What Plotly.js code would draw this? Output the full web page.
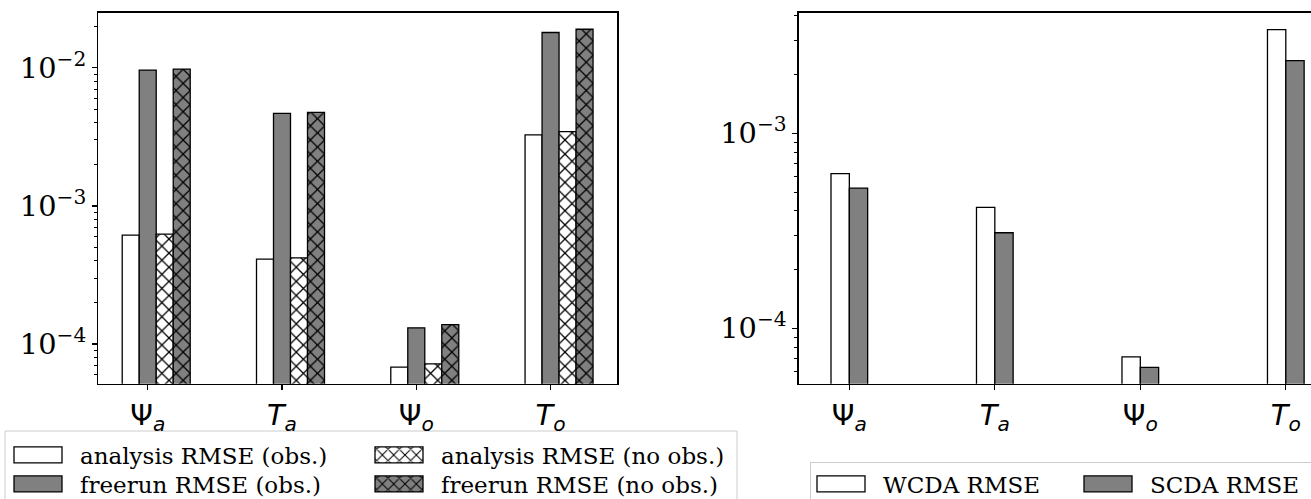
<!DOCTYPE html>
<html><head><meta charset="utf-8">
<script src="https://cdn.plot.ly/plotly-3.0.1.min.js"></script>
<style>html,body{margin:0;padding:0;background:#fff;overflow:hidden}
#wrap{position:relative;width:1311px;height:499px;overflow:hidden;background:#fff}</style>
</head><body><div id="wrap"><div id="chart"></div></div>
<script>
// ---- data ----
const categories = ['Psi_a', 'T_a', 'Psi_o', 'T_o'];
const tickLabels = ['Ψ<sub><i>a</i></sub>', '<i>T</i><sub><i>a</i></sub>', 'Ψ<sub><i>o</i></sub>', '<i>T</i><sub><i>o</i></sub>'];
const analysisObs   = [6.14e-4, 4.11e-4, 6.81e-5, 3.27e-3];
const freerunObs    = [9.62e-3, 4.68e-3, 1.31e-4, 1.80e-2];
const analysisNoObs = [6.24e-4, 4.21e-4, 7.19e-5, 3.45e-3];
const freerunNoObs  = [9.78e-3, 4.75e-3, 1.38e-4, 1.90e-2];
const wcdaRMSE = [6.21e-4, 4.17e-4, 7.13e-5, 3.40e-3];
const scdaRMSE = [5.24e-4, 3.09e-4, 6.31e-5, 2.36e-3];
const yTickVals = [1e-4, 1e-3, 1e-2];
const yTickText = ['10<sup>−4</sup>', '10<sup>−3</sup>', '10<sup>−2</sup>'];

// figure is drawn larger than the window and clipped (the reference is cut at right and bottom)
const W = 1400, H = 540;
const xpos = categories.map((_, i) => i);
const minorVals = [];
for (let e = -5; e <= -1; e++) for (let m = 2; m <= 9; m++) minorVals.push(m * Math.pow(10, e));

const wL = 0.1266, wR = 0.126;
const GRAY = '#808080';
const edge = {color: 'black', width: 1.3};
const hatch = (bg) => ({shape: 'x', fgcolor: 'black', bgcolor: bg, size: 10, solidity: 0.24, fillmode: 'replace'});

const data = [
  {type: 'bar', x: xpos, y: analysisObs, width: wL, offset: -1.5 * wL, xaxis: 'x', yaxis: 'y',
   marker: {color: 'white', line: edge}, name: 'analysis RMSE (obs.)', legend: 'legend'},
  {type: 'bar', x: xpos, y: freerunObs, width: wL, offset: -0.5 * wL, xaxis: 'x', yaxis: 'y',
   marker: {color: GRAY, line: edge}, name: 'freerun RMSE (obs.)', legend: 'legend2'},
  {type: 'bar', x: xpos, y: analysisNoObs, width: wL, offset: 0.5 * wL, xaxis: 'x', yaxis: 'y',
   marker: {color: 'white', line: edge, pattern: hatch('white')}, name: 'analysis RMSE (no obs.)', legend: 'legend'},
  {type: 'bar', x: xpos, y: freerunNoObs, width: wL, offset: 1.5 * wL, xaxis: 'x', yaxis: 'y',
   marker: {color: GRAY, line: edge, pattern: hatch(GRAY)}, name: 'freerun RMSE (no obs.)', legend: 'legend2'},
  {type: 'bar', x: xpos, y: wcdaRMSE, width: wR, offset: -wR, xaxis: 'x2', yaxis: 'y2',
   marker: {color: 'white', line: edge}, name: 'WCDA RMSE', legend: 'legend3'},
  {type: 'bar', x: xpos, y: scdaRMSE, width: wR, offset: 0, xaxis: 'x2', yaxis: 'y2',
   marker: {color: GRAY, line: edge}, name: 'SCDA RMSE', legend: 'legend3'}
];

const xAxisBase = {tickvals: xpos, ticktext: tickLabels, ticks: 'outside', ticklen: 5, tickwidth: 1.3, tickcolor: 'black',
  showline: true, linecolor: 'black', linewidth: 1.3, mirror: true, showgrid: false, zeroline: false,
  tickfont: {family: 'DejaVu Sans', size: 28.8, color: 'black'}, fixedrange: true};
const yAxisBase = {type: 'log', tickvals: yTickVals, ticktext: yTickText, ticks: 'outside', ticklen: 5, tickwidth: 1.3, tickcolor: 'black',
  showline: true, linecolor: 'black', linewidth: 1.3, mirror: true, showgrid: false, zeroline: false,
  tickfont: {family: 'DejaVu Serif', size: 28.8, color: 'black'}, fixedrange: true,
  minor: {tickvals: minorVals, ticks: 'outside', ticklen: 3, tickwidth: 1, tickcolor: 'black', showgrid: false}};

const ITEMW = 62;
const yDom = [(H - 383.7) / H, (H - 12.7) / H];
const legFont = {family: 'DejaVu Serif', size: 23, color: 'black'};
const legBase = {font: legFont, bgcolor: 'rgba(0,0,0,0)', borderwidth: 0, itemwidth: ITEMW, xanchor: 'left', yanchor: 'top',
  orientation: 'h', itemclick: false, itemdoubleclick: false, tracegroupgap: 0, xref: 'paper', yref: 'paper'};

const layout = {
  width: W, height: H, margin: {l: 0, r: 0, t: 0, b: 0, autoexpand: false},
  paper_bgcolor: 'white', plot_bgcolor: 'white', barmode: 'overlay', showlegend: true,
  font: {family: 'DejaVu Sans', color: 'black'},
  xaxis: Object.assign({}, xAxisBase, {domain: [98.3 / W, 617.3 / W], range: [-0.368, 3.497], anchor: 'y'}),
  yaxis: Object.assign({}, yAxisBase, {domain: yDom, range: [-4.2873, -1.6015], anchor: 'x'}),
  xaxis2: Object.assign({}, xAxisBase, {domain: [798.7 / W, 1336 / W], range: [-0.348, 3.345], anchor: 'y2'}),
  yaxis2: Object.assign({}, yAxisBase, {domain: yDom, range: [-4.284, -2.3815], anchor: 'x2'}),
  legend: Object.assign({}, legBase, {x: 8 / W, y: (H - 433.5) / H, entrywidth: 284}),
  legend2: Object.assign({}, legBase, {x: 8 / W, y: (H - 462.5) / H, entrywidth: 284}),
  legend3: Object.assign({}, legBase, {x: 810 / W, y: (H - 461.5) / H, entrywidth: 190,
    bgcolor: 'white', bordercolor: '#cccccc', borderwidth: 1}),
  shapes: [
    {type: 'rect', xref: 'paper', yref: 'paper', x0: 5 / W, x1: 737 / W, y0: (H - 530) / H, y1: (H - 431) / H,
     line: {color: '#cccccc', width: 1}, fillcolor: 'rgba(0,0,0,0)', layer: 'below'}
  ]
};

// widen the legend swatches to matplotlib-like rectangles (legend text sits at itemwidth + 10 in item coords)
const TEXT_X = ITEMW + 10;
function fixSwatches(root) {
  root.querySelectorAll('.legendpoints path').forEach(p => {
    try {
      const tf = p.getAttribute('transform') || '';
      const m = /translate\(\s*([-\d.eE]+)/.exec(tf);
      const ox = m ? parseFloat(m[1]) : 0;
      const L = (TEXT_X - 66 - ox).toFixed(2), R = (TEXT_X - 18 - ox).toFixed(2);
      const d = 'M' + R + ',8H' + L + 'V-8H' + R + 'Z';
      if (p.getAttribute('d') !== d) p.setAttribute('d', d);
    } catch (e) {}
  });
}

const chartEl = document.getElementById('chart');
new MutationObserver(() => fixSwatches(chartEl)).observe(chartEl,
  {childList: true, subtree: true, attributes: true, attributeFilter: ['d', 'transform']});
Plotly.newPlot(chartEl, data, layout, {staticPlot: true, displayModeBar: false}).then(gd => {
  fixSwatches(gd);
  gd.on('plotly_afterplot', () => fixSwatches(gd));
  let n = 0;
  const iv = setInterval(() => { fixSwatches(gd); if (++n > 60) clearInterval(iv); }, 50);
});
</script>
</body></html>
